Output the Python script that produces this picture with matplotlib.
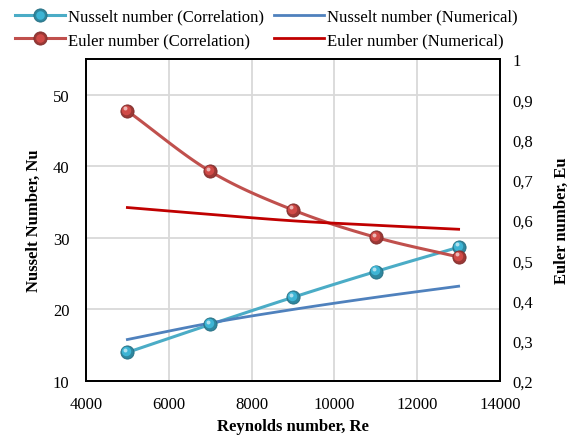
import numpy as np
import matplotlib
matplotlib.use("Agg")
import matplotlib.pyplot as plt
from matplotlib.lines import Line2D
from matplotlib.transforms import ScaledTranslation
from matplotlib.legend_handler import HandlerTuple

plt.rcParams['font.family'] = ['Liberation Serif', 'DejaVu Serif']

# Data
reynolds = [5000, 7000, 9000, 11000, 13000]
nu_corr = [14.0, 17.9, 21.7, 25.3, 28.7]
nu_num = [15.8, 18.1, 20.0, 21.7, 23.25]
eu_corr = [0.871, 0.721, 0.625, 0.557, 0.508]
eu_num = [0.631, 0.614, 0.598, 0.587, 0.577]

x_ticks = [4000, 6000, 8000, 10000, 12000, 14000]
nu_ticks = [10, 20, 30, 40, 50]
eu_ticks = [0.2, 0.3, 0.4, 0.5, 0.6, 0.7, 0.8, 0.9, 1.0]

C_NU_CORR = '#4bacc6'
C_NU_NUM = '#4f81bd'
C_EU_CORR = '#c0504d'
C_EU_NUM = '#c00000'
C_NU_BALL = '#3db4d4'
C_EU_BALL = '#d04a47'


def smooth(x, y, n=30):
    """Catmull-Rom style smoothing through the given points."""
    x = np.asarray(x, float)
    y = np.asarray(y, float)
    px = np.concatenate([[2 * x[0] - x[1]], x, [2 * x[-1] - x[-2]]])
    py = np.concatenate([[2 * y[0] - y[1]], y, [2 * y[-1] - y[-2]]])
    xs, ys = [], []
    t = np.linspace(0, 1, n)
    for i in range(1, len(px) - 2):
        p0x, p1x, p2x, p3x = px[i - 1:i + 3]
        p0y, p1y, p2y, p3y = py[i - 1:i + 3]
        c1x, c1y = p1x + (p2x - p0x) / 6, p1y + (p2y - p0y) / 6
        c2x, c2y = p2x - (p3x - p1x) / 6, p2y - (p3y - p1y) / 6
        bx = (1 - t) ** 3 * p1x + 3 * (1 - t) ** 2 * t * c1x + 3 * (1 - t) * t ** 2 * c2x + t ** 3 * p2x
        by = (1 - t) ** 3 * p1y + 3 * (1 - t) ** 2 * t * c1y + 3 * (1 - t) * t ** 2 * c2y + t ** 3 * p2y
        xs.append(bx)
        ys.append(by)
    return np.concatenate(xs), np.concatenate(ys)


def lighten(c, f):
    rgb = np.array(matplotlib.colors.to_rgb(c))
    return tuple(rgb + (1 - rgb) * f)


def darken(c, f):
    rgb = np.array(matplotlib.colors.to_rgb(c))
    return tuple(rgb * (1 - f))


MS = 9.5


def spheres(ax, x, y, color, z):
    ax.plot(x, y, 'o', ms=MS, mfc=darken(color, 0.25), mec=darken(color, 0.4),
            mew=0.6, zorder=z, clip_on=False)
    off = ax.transData + ScaledTranslation(-0.7 / 72, 0.8 / 72, ax.figure.dpi_scale_trans)
    ax.plot(x, y, 'o', ms=MS * 0.72, mfc=color, mec='none', zorder=z + 0.1,
            transform=off, clip_on=False)
    off2 = ax.transData + ScaledTranslation(-1.5 / 72, 2.0 / 72, ax.figure.dpi_scale_trans)
    ax.plot(x, y, 'o', ms=MS * 0.3, mfc=lighten(color, 0.6), mec='none', zorder=z + 0.2,
            transform=off2, clip_on=False)


fig = plt.figure(figsize=(5.79, 4.39), dpi=100)
ax = fig.add_axes([0.1485, 0.1298, 0.7151, 0.7335])
ax2 = ax.twinx()

ax.set_xlim(4000, 14000)
ax.set_ylim(10, 55)
ax2.set_ylim(0.2, 1.0)

ax.set_xticks(x_ticks)
ax.set_yticks(nu_ticks)
ax2.set_yticks(eu_ticks)
ax2.set_yticklabels([('%g' % v).replace('.', ',') for v in eu_ticks])

ax.grid(True, color='#d9d9d9', lw=1.3)
ax.set_axisbelow(True)

for a in (ax, ax2):
    for s in a.spines.values():
        s.set_linewidth(1.3)
        s.set_color('black')
    a.tick_params(length=0, labelsize=12)
ax.tick_params(axis='y', pad=12)
ax.tick_params(axis='x', pad=11)
ax2.tick_params(axis='y', pad=9)

# Nusselt number
sx, sy = smooth(reynolds, nu_corr)
ax.plot(sx, sy, color=C_NU_CORR, lw=2.2, zorder=3)
spheres(ax, reynolds, nu_corr, C_NU_BALL, 4)
sx, sy = smooth(reynolds, nu_num)
ax.plot(sx, sy, color=C_NU_NUM, lw=2.0, zorder=3)

# Euler number
sx, sy = smooth(reynolds, eu_corr)
ax2.plot(sx, sy, color=C_EU_CORR, lw=2.2, zorder=3)
spheres(ax2, reynolds, eu_corr, C_EU_BALL, 4)
sx, sy = smooth(reynolds, eu_num)
ax2.plot(sx, sy, color=C_EU_NUM, lw=2.0, zorder=3)

ax.set_xlabel('Reynolds number, Re', fontsize=12, fontweight='bold', labelpad=4)
ax.set_ylabel('Nusselt Number, Nu', fontsize=12, fontweight='bold', labelpad=8)
ax2.set_ylabel('Euler number, Eu', fontsize=12, fontweight='bold', rotation=90,
               labelpad=26, va='bottom')


def leg_handle(color, ball, marker):
    line = Line2D([], [], color=color, lw=2.2)
    if not marker:
        return line
    b = Line2D([], [], marker='o', ms=MS, ls='none', mfc=darken(ball, 0.25),
               mec=darken(ball, 0.4), mew=0.6)
    hi = Line2D([], [], marker='o', ms=MS * 0.65, ls='none', mfc=ball, mec='none')
    return (line, b, hi)


handles = [leg_handle(C_NU_CORR, C_NU_BALL, True), leg_handle(C_EU_CORR, C_EU_BALL, True),
           Line2D([], [], color=C_NU_NUM, lw=2.0), Line2D([], [], color=C_EU_NUM, lw=2.0)]
labels = ['Nusselt number (Correlation)', 'Euler number (Correlation)',
          'Nusselt number (Numerical)', 'Euler number (Numerical)']
fig.legend(handles, labels, ncol=2, loc='upper left', bbox_to_anchor=(0.0, 1.012),
           frameon=False, fontsize=12, handlelength=3.0, handletextpad=0.15,
           columnspacing=0.65, labelspacing=0.45,
           handler_map={tuple: HandlerTuple(ndivide=1)})

fig.savefig('out.png', dpi=100)
